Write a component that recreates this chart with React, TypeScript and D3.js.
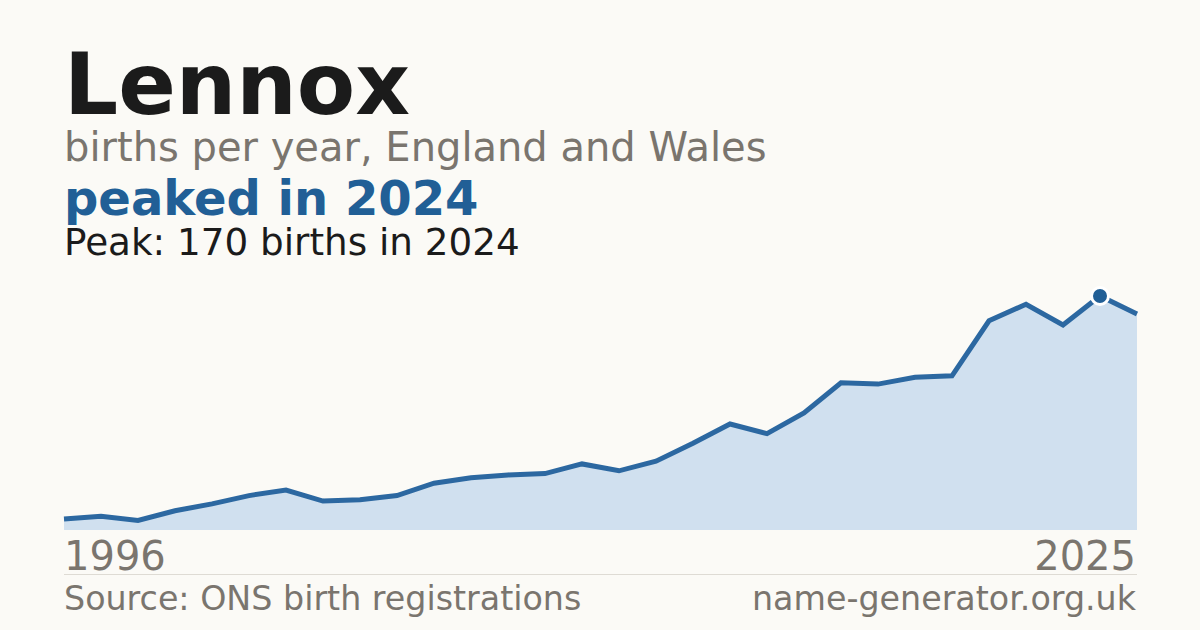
import * as d3 from "d3";

const years = d3.range(1996, 2026);
const births = [
  8, 10, 7, 14, 19, 25, 29, 21, 22, 25, 34, 38, 40, 41, 48, 43, 50, 63, 77, 70,
  85, 107, 106, 111, 112, 152, 164, 149, 170, 157,
];
const peakYear = 2024;
const peakValue = 170;

const W = 1200;
const H = 630;
const left = 64;
const right = 1137;
const base = 530;
const FONT = "DejaVu Sans, sans-serif";

export default function App() {
  const data = years.map((y, i) => ({ year: y, value: births[i] }));

  const x = d3.scaleLinear().domain([1996, 2025]).range([left, right]);
  const y = d3.scaleLinear().domain([0, peakValue]).range([base, 296]);

  const area = d3
    .area<{ year: number; value: number }>()
    .x((d) => x(d.year))
    .y0(base)
    .y1((d) => y(d.value));

  const line = d3
    .line<{ year: number; value: number }>()
    .x((d) => x(d.year))
    .y((d) => y(d.value));

  return (
    <svg
      width={W}
      height={H}
      viewBox={`0 0 ${W} ${H}`}
      style={{ position: "fixed", left: 0, top: 0, display: "block" }}
      fontFamily={FONT}
    >
      <rect width={W} height={H} fill="#fbfaf6" />

      <text x={64} y={114} fontSize={85} fontWeight="bold" fill="#1b1b1b">
        Lennox
      </text>
      <text x={64} y={161} fontSize={40} fill="#7a756e">
        births per year, England and Wales
      </text>
      <text x={64} y={215} fontSize={48} fontWeight="bold" fill="#215f96">
        peaked in 2024
      </text>
      <text x={64} y={255} fontSize={37.3} fill="#1b1b1b">
        Peak: 170 births in 2024
      </text>

      <path d={area(data) ?? ""} fill="#d0e0ef" />
      <path
        d={line(data) ?? ""}
        fill="none"
        stroke="#2c68a1"
        strokeWidth={5}
        strokeLinejoin="miter"
      />
      <circle
        cx={x(peakYear)}
        cy={y(peakValue)}
        r={8.5}
        fill="#215f96"
        stroke="#ffffff"
        strokeWidth={3}
      />

      <text x={left} y={570} fontSize={40} fill="#7a756e">
        1996
      </text>
      <text x={right - 1} y={570} fontSize={40} fill="#7a756e" textAnchor="end">
        2025
      </text>

      <line x1={left} x2={right} y1={574.5} y2={574.5} stroke="#dedbd4" strokeWidth={1} />

      <text x={left} y={610} fontSize={33.3} fill="#7a756e">
        Source: ONS birth registrations
      </text>
      <text x={right - 1} y={610} fontSize={33.3} fill="#7a756e" textAnchor="end">
        name-generator.org.uk
      </text>
    </svg>
  );
}
